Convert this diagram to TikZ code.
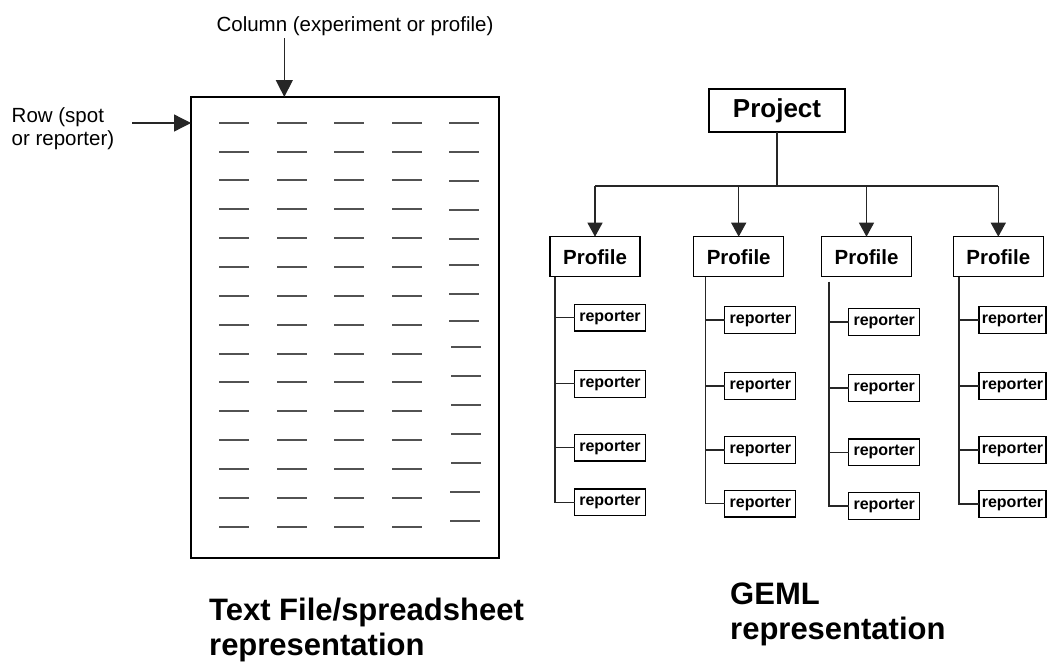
\documentclass[tikz,border=0pt]{standalone}
\usepackage{fontspec}
\setmainfont{Liberation Sans}
\usetikzlibrary{arrows.meta}
\begin{document}
\begin{tikzpicture}[x=1pt,y=-1pt,
  conn/.style={line width=1.3pt, draw=black!85},
  arr/.style={conn, -{Triangle[length=14pt,width=15pt]}},
  bigarr/.style={conn, -{Triangle[length=17pt,width=17pt]}},
  dashline/.style={draw=black!68, line width=1.7pt},
  boxbase/.style={draw, line width=1.3pt, inner sep=0pt, outer sep=0pt},
  projbox/.style={boxbase, minimum width=136pt, minimum height=43pt, font=\fontsize{26}{30}\selectfont\bfseries},
  profbox/.style={boxbase, minimum width=90pt, minimum height=40pt, font=\fontsize{20.5}{24}\selectfont\bfseries},
  repbox/.style={boxbase, minimum width=71pt, minimum height=26.7pt, font=\fontsize{16}{19}\selectfont\bfseries},
  replast/.style={repbox, minimum width=67pt},
  lbl/.style={inner sep=0pt, font=\fontsize{20.5}{22.5}\selectfont, align=left},
  title/.style={inner sep=0pt, font=\fontsize{31}{35}\selectfont\bfseries, align=left}
]
\useasboundingbox (0,0) rectangle (1047,667);

% ---------- spreadsheet side ----------
\node[boxbase, minimum width=308pt, minimum height=461pt] (sheet) at (345,327.5) {};
\node[lbl, anchor=base] (collbl) at (355,31.5) {Column (experiment or profile)};
\node[lbl, anchor=base west] (rowlbl) at (11.5,145) {Row (spot\\or reporter)};
\coordinate (colstart) at (284.3,38);
\coordinate (rowstart) at (132,123);
\draw[bigarr] (colstart) -- (colstart |- sheet.north);
\draw[bigarr] (rowstart) -- (rowstart -| sheet.west);

\foreach \c in {234,292,349,407}
  \foreach \i in {0,...,14}
    \draw[dashline] ({\c-15},{round(122.7+28.86*\i)}) -- ({\c+15},{round(122.7+28.86*\i)});
\foreach \xx/\yy in {464/123,464/152,464/181,464/210,464/239,464/265,
  464/294,464/321,466/347,466/376,466/405,466/434,466/463,465/492,465/521}
  \draw[dashline] ({\xx-15},\yy) -- ({\xx+15},\yy);

\node[title, anchor=base west] (ttext) at (209,655.7) {Text File/spreadsheet\\representation};

% ---------- GEML tree ----------
\node[projbox] (proj) at (777,110.5) {Project};
\node[profbox] (prof1) at (595,256.7) {Profile};
\node[profbox] (prof2) at (738.7,256.7) {Profile};
\node[profbox] (prof3) at (866.5,256.7) {Profile};
\node[profbox] (prof4) at (998.3,256.7) {Profile};
\coordinate (bus) at (0,186);
\draw[conn] (proj.south) -- (proj.south |- bus);
\draw[conn] (prof1.north |- bus) -- (prof4.north |- bus);
\foreach \k in {1,...,4}
  \draw[arr] (prof\k.north |- bus) -- (prof\k.north);

% reporters
\node[repbox] (r1a) at (610,317.7) {reporter};
\node[repbox] (r1b) at (610,383.8) {reporter};
\node[repbox] (r1c) at (610,447.7) {reporter};
\node[repbox] (r1d) at (610,502.2) {reporter};
\node[repbox] (r2a) at (760.3,320) {reporter};
\node[repbox] (r2b) at (760.3,386) {reporter};
\node[repbox] (r2c) at (760.3,450) {reporter};
\node[repbox] (r2d) at (760.3,503.7) {reporter};
\node[repbox] (r3a) at (884.2,322) {reporter};
\node[repbox] (r3b) at (884.2,388) {reporter};
\node[repbox] (r3c) at (884.2,452.2) {reporter};
\node[repbox] (r3d) at (884.2,506) {reporter};
\node[replast] (r4a) at (1012.5,320) {reporter};
\node[replast] (r4b) at (1012.5,386) {reporter};
\node[replast] (r4c) at (1012.5,450) {reporter};
\node[replast] (r4d) at (1012.5,504) {reporter};

\coordinate (s1) at (555,276.7);
\coordinate (s2) at (705.7,276.7);
\coordinate (s3) at (829,281.7);
\coordinate (s4) at (959,276.7);
\foreach \k in {1,...,4}{
  \draw[conn] (s\k) |- (r\k d.west);
  \foreach \r in {a,b,c}
    \draw[conn] (r\k\r.west -| s\k) -- (r\k\r.west);
}

\node[title, anchor=base west] (tgeml) at (730,639) {GEML\\representation};
\end{tikzpicture}
\end{document}
